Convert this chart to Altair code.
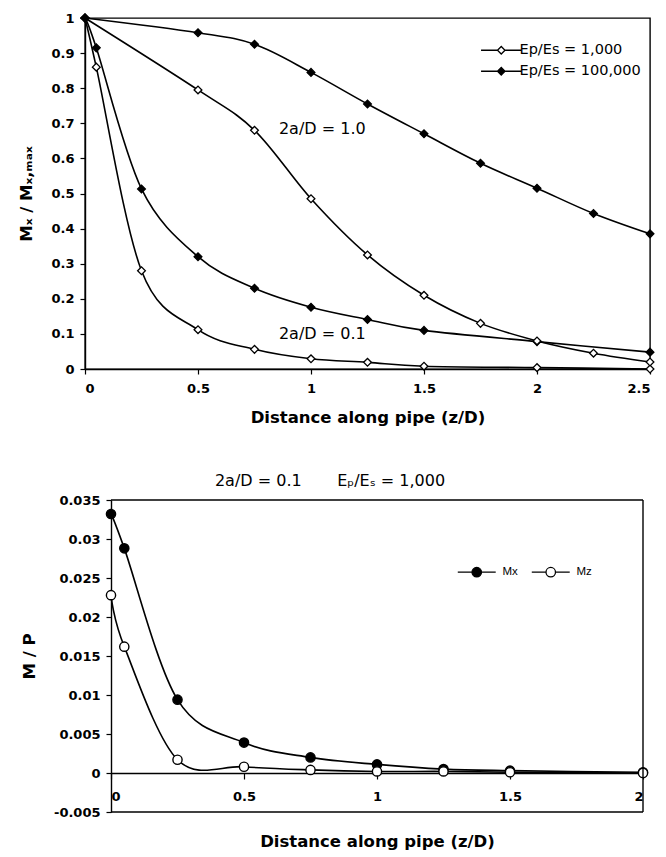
import altair as alt
import pandas as pd

# ---- Upper panel: normalised moment Mx / Mx,max along the pipe ----
dist_small = [0, 0.05, 0.25, 0.5, 0.75, 1.0, 1.25, 1.5, 2.0, 2.5]      # 2a/D = 0.1
dist_large = [0, 0.5, 0.75, 1.0, 1.25, 1.5, 1.75, 2.0, 2.25, 2.5]      # 2a/D = 1.0
mx_1k_small = [1.0, 0.86, 0.28, 0.112, 0.056, 0.029, 0.019, 0.008, 0.004, 0.0]
mx_100k_small = [1.0, 0.915, 0.513, 0.32, 0.23, 0.176, 0.141, 0.11, 0.078, 0.048]
mx_1k_large = [1.0, 0.795, 0.68, 0.485, 0.325, 0.21, 0.13, 0.08, 0.045, 0.02]
mx_100k_large = [1.0, 0.958, 0.925, 0.845, 0.755, 0.67, 0.586, 0.515, 0.443, 0.385]

ratio_labels = ["Ep/Es = 1,000", "Ep/Es = 100,000"]
note_x = [1.05, 1.05]
note_y = [0.684, 0.10]
note_text = ["2a/D = 1.0", "2a/D = 0.1"]

# ---- Lower panel: M / P for 2a/D = 0.1, Ep/Es = 1,000 ----
dist_lower = [0, 0.05, 0.25, 0.5, 0.75, 1.0, 1.25, 1.5, 2.0]
mx_lower = [0.0332, 0.0288, 0.0094, 0.0039, 0.0020, 0.0011, 0.0005, 0.0003, 0.0001]
mz_lower = [0.0228, 0.0162, 0.0017, 0.0008, 0.0004, 0.0002, 0.0002, 0.0001, 0.0]
moment_labels = ["Mx", "Mz"]

top_x_ticks = [0, 0.5, 1, 1.5, 2, 2.5]
top_y_ticks = [0, 0.1, 0.2, 0.3, 0.4, 0.5, 0.6, 0.7, 0.8, 0.9, 1]
low_x_ticks = [0, 0.5, 1, 1.5, 2]
low_y_ticks = [-0.005, 0, 0.005, 0.01, 0.015, 0.02, 0.025, 0.03, 0.035]
low_x_domain = [0, 2]
low_y_domain = [-0.005, 0.035]

rows = []
for curve, ratio, xs, ys in [
    ("small-1k", ratio_labels[0], dist_small, mx_1k_small),
    ("small-100k", ratio_labels[1], dist_small, mx_100k_small),
    ("large-1k", ratio_labels[0], dist_large, mx_1k_large),
    ("large-100k", ratio_labels[1], dist_large, mx_100k_large),
]:
    for xv, yv in zip(xs, ys):
        rows.append({"curve": curve, "ratio": ratio, "dist": xv, "val": yv})
top_df = pd.DataFrame(rows)
notes_df = pd.DataFrame({"dist": note_x, "val": note_y, "label": note_text})

low_rows = []
for name, ys in [(moment_labels[0], mx_lower), (moment_labels[1], mz_lower)]:
    for xv, yv in zip(dist_lower, ys):
        low_rows.append({"moment": name, "dist": xv, "val": yv})
low_df = pd.DataFrame(low_rows)

# box around the lower plot: top, bottom and right edges (left edge is the y axis)
x0, x1 = low_x_domain
y0, y1 = low_y_domain
frame_df = pd.DataFrame({
    "dist": [x0, x0, x1], "dist2": [x1, x1, x1],
    "val": [y1, y0, y0], "val2": [y1, y0, y1],
})

TICK_FONT = "DejaVu Sans"
diamond_key = "M-5.4,0L-1,0M1,0L5.4,0M-1,0L0,-1L1,0L0,1Z"
circle_key = "M-4,0L-1,0M1,0L4,0M-1,0A1,1,0,1,1,1,0A1,1,0,1,1,-1,0Z"

# ---------------- upper panel ----------------
tx = alt.X(
    "dist:Q",
    scale=alt.Scale(domain=[0, 2.5], nice=False, zero=False),
    axis=alt.Axis(
        values=top_x_ticks, tickCount=30, format="~g", title="Distance along pipe (z/D)",
        labelPadding=8, titlePadding=14, tickSize=5, labelOverlap=False,
    ),
)
ty = alt.Y(
    "val:Q",
    scale=alt.Scale(domain=[0, 1], nice=False),
    axis=alt.Axis(
        values=top_y_ticks, tickCount=30, format="~g", title="Mₓ / Mₓ,ₘₐₓ",
        labelPadding=6, titlePadding=16, tickSize=5, labelOverlap=False,
    ),
)

top_lines = alt.Chart(top_df).mark_line(
    interpolate="cardinal", color="black", strokeWidth=1.6
).encode(x=tx, y=ty, detail="curve:N", order="dist:Q")

top_points = alt.Chart(top_df).mark_point(
    shape="diamond", filled=True, size=60, stroke="black", strokeWidth=1.3, opacity=1
).encode(
    x=tx, y=ty,
    fill=alt.Fill(
        "ratio:N",
        scale=alt.Scale(domain=ratio_labels, range=["white", "black"]),
        legend=alt.Legend(
            title=None, orient="none", legendX=409, legendY=25, padding=0,
            symbolType=diamond_key, symbolSize=56, symbolStrokeColor="black",
            symbolStrokeWidth=1.3, labelOffset=11, rowPadding=6,
            labelFont="DejaVu Sans", labelFontSize=14.5, labelColor="black",
        ),
    ),
)

top_notes = alt.Chart(notes_df).mark_text(
    font="DejaVu Sans", fontSize=16, color="black"
).encode(x=tx, y=ty, text="label:N")

top = alt.layer(top_lines, top_points, top_notes).properties(width=565, height=351)

# ---------------- lower panel ----------------
LOW_W = 558
LOW_INSET = 26
low_x_scale = alt.Scale(domain=low_x_domain, range=[LOW_INSET, LOW_W], nice=False, zero=False)
lx = alt.X(
    "dist:Q",
    scale=low_x_scale,
    axis=alt.Axis(
        values=low_x_ticks, tickCount=30, format="~g", title="Distance along pipe (z/D)",
        offset=-39, labelPadding=11, titlePadding=30, tickSize=6,
        titleX=LOW_INSET + (LOW_W - LOW_INSET) / 2, labelOverlap=False,
    ),
)
ly = alt.Y(
    "val:Q",
    scale=alt.Scale(domain=low_y_domain, nice=False),
    axis=alt.Axis(
        values=low_y_ticks, tickCount=30, format="~g",
        labelExpr="replace(datum.label, '−', '-')",
        title="M / P", offset=-LOW_INSET, labelPadding=6, titlePadding=16, tickSize=5,
        labelOverlap=False,
    ),
)

low_lines = alt.Chart(low_df).mark_line(
    interpolate="cardinal", color="black", strokeWidth=1.6
).encode(x=lx, y=ly, detail="moment:N", order="dist:Q")

low_points = alt.Chart(low_df).mark_point(
    shape="circle", filled=True, size=85, stroke="black", strokeWidth=1.4, opacity=1
).encode(
    x=lx, y=ly,
    fill=alt.Fill(
        "moment:N",
        scale=alt.Scale(domain=moment_labels, range=["black", "white"]),
        legend=alt.Legend(
            title=None, orient="none", direction="horizontal", legendX=386, legendY=66,
            padding=0, symbolType=circle_key, symbolSize=90, symbolStrokeColor="black",
            symbolStrokeWidth=1.3, labelOffset=20, columnPadding=11,
            labelFont="Liberation Sans", labelFontSize=11.5, labelColor="black",
        ),
    ),
)

low_frame = alt.Chart(frame_df).mark_rule(color="black", strokeWidth=1.4).encode(
    x="dist:Q", x2="dist2:Q", y="val:Q", y2="val2:Q"
)

low = alt.layer(low_lines, low_points, low_frame).properties(
    width=LOW_W, height=312,
    view=alt.ViewBackground(strokeOpacity=0),
    title=alt.TitleParams(
        text="2a/D = 0.1\u00a0\u00a0\u00a0\u00a0\u00a0\u00a0\u00a0Eₚ/Eₛ = 1,000",
        font="DejaVu Sans", fontSize=16, fontWeight="normal", color="black",
        anchor="middle", offset=5, dx=-34,
    ),
)

chart = (
    alt.concat(top, low, columns=1, spacing=46)
    .resolve_scale(fill="independent", x="independent", y="independent")
    .resolve_legend(fill="independent")
    .properties(padding={"left": 18, "top": 10, "right": 5, "bottom": 0}, background="white")
    .configure_view(stroke="black", strokeWidth=1.4)
    .configure_axis(
        grid=False, domainColor="black", domainWidth=1.4, tickColor="black", tickWidth=1.2,
        labelColor="black", titleColor="black", labelFont=TICK_FONT, labelFontSize=13,
        labelFontWeight="bold", titleFont="DejaVu Sans", titleFontSize=16.5,
        titleFontWeight="bold", labelOverlap=False,
    )
)

chart.save("out.html", embed_options={"renderer": "svg", "actions": False})
